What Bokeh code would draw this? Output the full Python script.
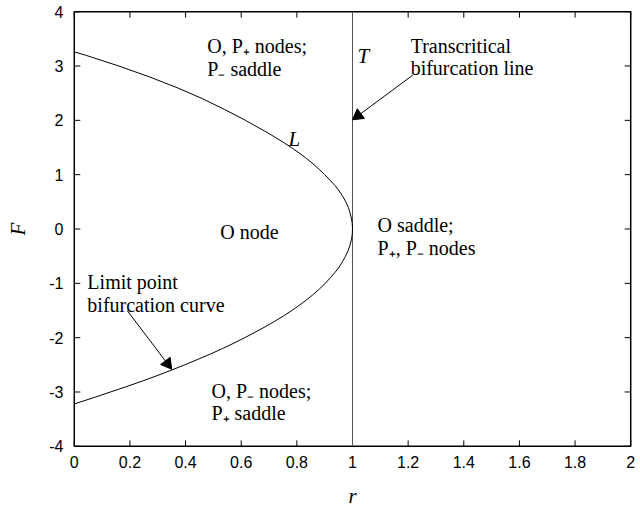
import math
from bokeh.plotting import figure
from bokeh.models import Range1d, FixedTicker, Span
from bokeh.core.properties import value
from bokeh.embed import file_html
from bokeh.resources import INLINE

# ---- data ----
# limit point bifurcation curve L (F on the vertical axis, r on the horizontal)
curve_F = [3.26, 3.2, 3.1, 3.0, 2.9, 2.8, 2.7, 2.6, 2.5, 2.4, 2.3, 2.2, 2.1, 2.0, 1.9, 1.8, 1.7,
           1.6, 1.5, 1.4, 1.3, 1.2, 1.1, 1.0, 0.9, 0.8, 0.7, 0.6, 0.5, 0.4, 0.3, 0.2, 0.1, 0.0,
           -0.1, -0.2, -0.3, -0.4, -0.5, -0.6, -0.7, -0.8, -0.9, -1.0, -1.1, -1.2, -1.3, -1.4,
           -1.5, -1.6, -1.7, -1.8, -1.9, -2.0, -2.1, -2.2, -2.3, -2.4, -2.5, -2.6, -2.7, -2.8,
           -2.9, -3.0, -3.1, -3.22]
curve_r = [0.0, 0.04, 0.10, 0.16, 0.215, 0.27, 0.32, 0.37, 0.415, 0.46, 0.5, 0.54, 0.578, 0.615,
           0.65, 0.685, 0.718, 0.75, 0.78, 0.808, 0.834, 0.858, 0.88, 0.9, 0.919, 0.937, 0.952,
           0.965, 0.976, 0.985, 0.991, 0.996, 0.999, 1.0,
           0.999, 0.996, 0.991, 0.984, 0.975, 0.964, 0.952, 0.937, 0.92, 0.902, 0.882, 0.86,
           0.836, 0.81, 0.782, 0.752, 0.72, 0.686, 0.65, 0.613, 0.574, 0.533, 0.49, 0.444,
           0.397, 0.348, 0.297, 0.244, 0.188, 0.13, 0.072, 0.0]
# transcritical bifurcation line T
T_r = 1.0

x_ticks = [0, 0.2, 0.4, 0.6, 0.8, 1, 1.2, 1.4, 1.6, 1.8, 2]
x_tick_labels = ["0", "0.2", "0.4", "0.6", "0.8", "1", "1.2", "1.4", "1.6", "1.8", "2"]
y_ticks = [-4, -3, -2, -1, 0, 1, 2, 3, 4]
y_tick_labels = ["-4", "-3", "-2", "-1", "0", "1", "2", "3", "4"]

region_texts = ["O, P\u208a nodes;", "P\u208b saddle", "O node", "O saddle;", "P\u208a, P\u208b nodes",
                "O, P\u208b nodes;", "P\u208a saddle", "Transcritical", "bifurcation line",
                "Limit point", "bifurcation curve"]
region_x = [0.478, 0.478, 0.525, 1.09, 1.09, 0.493, 0.493, 1.209, 1.209, 0.047, 0.047]
region_y = [3.36, 2.94, -0.055, 0.073, -0.347, -2.98, -3.38, 3.36, 2.96, -0.97, -1.39]

italic_texts = ["T", "L"]
italic_x = [1.018, 0.77]
italic_y = [3.18, 1.66]

# annotation arrows: (tail x, tail y, tip x, tip y)
arrows = [(1.216, 2.83, 1.0, 2.01), (0.19, -1.50, 0.35, -2.58)]

# axes box (data limits) and a small margin so the box edges sit inside the frame
X0, X1 = 0, 2
Y0, Y1 = -4, 4
MX, MY = 0.01, 0.04

W, H = 640, 510
BL, BR, BT, BB = 71, 7, 9, 60

# ---- figure ----
p = figure(width=W, height=H, output_backend="svg", toolbar_location=None,
           x_range=Range1d(X0 - MX, X1 + MX), y_range=Range1d(Y0 - MY, Y1 + MY),
           min_border_left=BL, min_border_right=BR, min_border_top=BT, min_border_bottom=BB)
p.outline_line_color = None
p.xgrid.visible = False
p.ygrid.visible = False

sx = (W - BL - BR) / (X1 - X0 + 2 * MX)   # pixels per data unit
sy = (H - BT - BB) / (Y1 - Y0 + 2 * MY)
tick_len = 6

tick_font = "Liberation Sans"
for ax in (p.xaxis[0], p.yaxis[0]):
    ax.axis_line_color = None
    ax.major_tick_line_color = None
    ax.minor_tick_line_color = None
    ax.major_tick_in = 0
    ax.major_tick_out = 0
    ax.major_label_text_font = tick_font
    ax.major_label_text_font_size = "16px"
    ax.major_label_text_color = "black"
    ax.axis_label_text_font = "Liberation Serif"
    ax.axis_label_text_font_style = "italic"
    ax.axis_label_text_font_size = "21px"
    ax.axis_label_text_color = "black"

p.xaxis[0].ticker = FixedTicker(ticks=x_ticks)
p.xaxis[0].major_label_overrides = dict(zip(x_ticks, x_tick_labels))
p.xaxis[0].major_label_standoff = 7
p.xaxis[0].axis_label = "r"
p.xaxis[0].axis_label_standoff = 13

p.yaxis[0].ticker = FixedTicker(ticks=y_ticks)
p.yaxis[0].major_label_overrides = dict(zip(y_ticks, y_tick_labels))
p.yaxis[0].major_label_standoff = 8
p.yaxis[0].axis_label = "F"
p.yaxis[0].axis_label_standoff = 16

# axes box
p.quad(left=[X0], right=[X1], bottom=[Y0], top=[Y1], fill_color=None,
       line_color="black", line_width=1.5)

# inward ticks on all four sides
dx, dy = tick_len / sx, tick_len / sy
nx, ny = len(x_ticks), len(y_ticks)
p.segment(x0=x_ticks * 2, y0=[Y0] * nx + [Y1] * nx, x1=x_ticks * 2,
          y1=[Y0 + dy] * nx + [Y1 - dy] * nx, line_color="black", line_width=1)
p.segment(x0=[X0] * ny + [X1] * ny, y0=y_ticks * 2, x1=[X0 + dx] * ny + [X1 - dx] * ny,
          y1=y_ticks * 2, line_color="black", line_width=1)

# transcritical line
p.segment(x0=[T_r], y0=[Y0], x1=[T_r], y1=[Y1], line_color="#555555", line_width=1)

# limit point curve
p.line(curve_r, curve_F, line_color="black", line_width=1)

# texts
p.text(x=region_x, y=region_y, text=region_texts, text_font=value("Liberation Serif"),
       text_font_size="20px", text_color="black", text_baseline="alphabetic", text_align="left")
p.text(x=italic_x, y=italic_y, text=italic_texts, text_font=value("Liberation Serif"),
       text_font_style="italic", text_font_size="21px", text_color="black",
       text_baseline="alphabetic", text_align="left")

# arrows drawn as a line plus a filled triangle head
head = 12
for (xa, ya, xb, yb) in arrows:
    dxs, dys = (xb - xa) * sx, (yb - ya) * sy
    L = math.hypot(dxs, dys)
    ux, uy = dxs / L, dys / L
    off = head / 2 * 2 / math.sqrt(3)  # distance from marker centre to tip
    cx = xb - ux * off / sx
    cy = yb - uy * off / sy
    ang = math.atan2(dys, dxs) - math.pi / 2
    p.segment(x0=[xa], y0=[ya], x1=[cx], y1=[cy], line_color="black", line_width=1)
    p.scatter(x=[cx], y=[cy], marker="triangle", size=head, angle=ang,
              fill_color="black", line_color="black", line_width=1)

open("out.html", "w").write(file_html(p, INLINE))
